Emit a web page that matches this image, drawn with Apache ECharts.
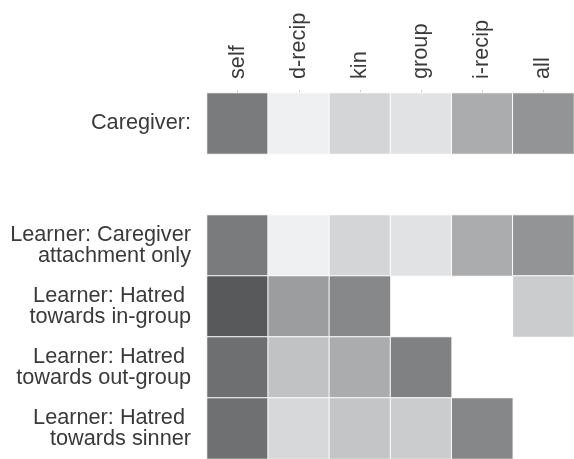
<!DOCTYPE html>
<html>
<head>
<meta charset="utf-8">
<script src="https://cdn.jsdelivr.net/npm/echarts@6/dist/echarts.min.js"></script>
<style>
html,body{margin:0;padding:0;background:#fff;}
#chart{width:574px;height:459px;}
</style>
</head>
<body>
<div id="chart"></div>
<script>
const columns = ['self', 'd-recip', 'kin', 'group', 'i-recip', 'all'];
const rowLabels = [
  'Caregiver:',
  '',
  'Learner: Caregiver\nattachment only',
  'Learner: Hatred \ntowards in-group',
  'Learner: Hatred \ntowards out-group',
  'Learner: Hatred \ntowards sinner'
];
// shading intensity (0 = light, 1 = dark); null = no cell
const caregiver        = [0.72, 0.03, 0.19, 0.11, 0.43, 0.57];
const spacerRow        = [null, null, null, null, null, null];
const learnerAttachment= [0.72, 0.03, 0.19, 0.11, 0.43, 0.57];
const hatredInGroup    = [0.92, 0.52, 0.64, null, null, 0.24];
const hatredOutGroup   = [0.79, 0.30, 0.43, 0.68, null, null];
const hatredSinner     = [0.78, 0.17, 0.28, 0.24, 0.65, null];

const rowValues = [caregiver, spacerRow, learnerAttachment, hatredInGroup, hatredOutGroup, hatredSinner];
const data = [];
rowValues.forEach((vals, r) => {
  vals.forEach((v, c) => { if (v !== null) data.push([c, r, v]); });
});

const font = 'Liberation Sans, Arial, Helvetica, sans-serif';
const chart = echarts.init(document.getElementById('chart'));
chart.setOption({
  animation: false,
  backgroundColor: '#fff',
  grid: { left: 207, top: 93, right: -4, bottom: -4, containLabel: false },
  xAxis: {
    type: 'category',
    position: 'top',
    data: columns,
    axisLine: { show: false },
    axisTick: { show: true, alignWithLabel: true, length: 3, lineStyle: { color: '#d0d0d0' } },
    axisLabel: { rotate: -90, fontSize: 21.7, color: '#3a3a3a', fontFamily: font, margin: 14 },
    splitLine: { show: false }
  },
  yAxis: {
    type: 'category',
    inverse: true,
    data: rowLabels,
    axisLine: { show: false },
    axisTick: { show: false },
    axisLabel: { fontSize: 21.7, color: '#3a3a3a', fontFamily: font, margin: 16, lineHeight: 20.5, align: 'right' },
    splitLine: { show: false }
  },
  visualMap: {
    show: false,
    min: 0,
    max: 1,
    inRange: { color: ['#f4f5f6', '#4a4b4d'] }
  },
  series: [{
    type: 'heatmap',
    data: data,
    itemStyle: { borderColor: '#ffffff', borderWidth: 1 },
    emphasis: { disabled: true }
  }]
});
</script>
</body>
</html>
